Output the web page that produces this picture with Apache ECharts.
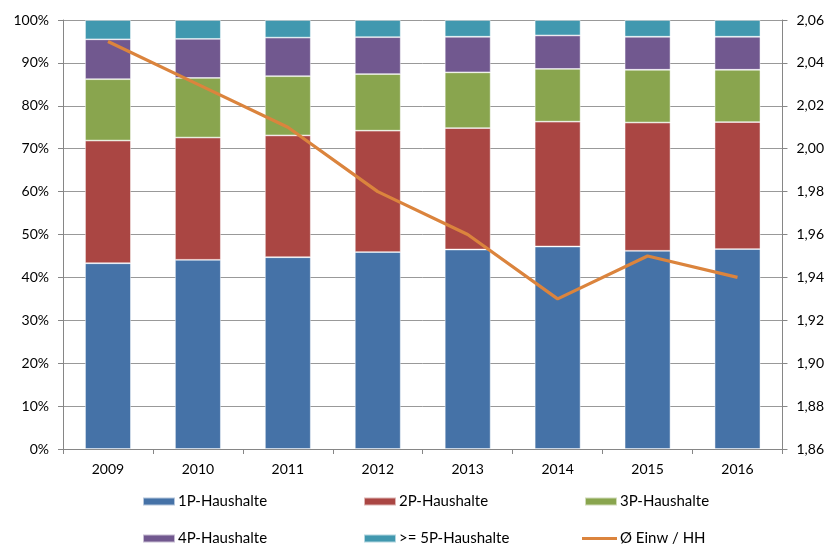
<!DOCTYPE html>
<html>
<head>
<meta charset="utf-8">
<script src="https://cdn.jsdelivr.net/npm/echarts@6/dist/echarts.min.js"></script>
<style>
html, body { margin: 0; padding: 0; background: #fff; }
#main { width: 827px; height: 544px; }
</style>
</head>
<body>
<div id="main"></div>
<script>
// Jahre
var years = ['2009', '2010', '2011', '2012', '2013', '2014', '2015', '2016'];
// Anteile in %
var hh1 = [43.3, 44.1, 44.7, 45.9, 46.5, 47.2, 46.2, 46.6];
var hh2 = [28.6, 28.5, 28.4, 28.3, 28.3, 29.1, 29.9, 29.6];
var hh3 = [14.3, 13.9, 13.8, 13.2, 13.0, 12.3, 12.3, 12.2];
var hh4 = [9.3, 9.1, 9.0, 8.6, 8.3, 7.8, 7.7, 7.7];
var hh5 = [4.5, 4.4, 4.1, 4.0, 3.9, 3.6, 3.9, 3.9];
// durchschnittliche Einwohner je Haushalt
var einwHH = [2.05, 2.03, 2.01, 1.98, 1.96, 1.93, 1.95, 1.94];

var names = ['1P-Haushalte', '2P-Haushalte', '3P-Haushalte', '4P-Haushalte', '>= 5P-Haushalte', 'Ø Einw / HH'];
var colors = ['#4572A7', '#AA4643', '#89A54E', '#71588F', '#4198AF', '#DB843D'];
var barData = [hh1, hh2, hh3, hh4, hh5];

var font = 'Lato';
var chart = echarts.init(document.getElementById('main'));

var series = [];
for (var i = 0; i < barData.length; i++) {
	series.push({
		name : names[i],
		type : 'bar',
		stack : 'hh',
		barWidth : '51%',
		itemStyle : { color : colors[i], borderColor : 'rgba(255,255,255,0.6)', borderWidth : 0.8 },
		data : barData[i]
	});
}
series.push({
	name : names[5],
	type : 'line',
	yAxisIndex : 1,
	symbol : 'none',
	lineStyle : { color : colors[5], width : 3.2 },
	itemStyle : { color : colors[5] },
	data : einwHH
});

// Legende: 3 Spalten, 2 Zeilen
var legendPos = [[142, 494], [363, 494], [584, 494], [142, 531], [363, 531], [582, 531]];
var legends = [];
for (var j = 0; j < names.length; j++) {
	legends.push({
		data : [ { name : names[j], icon : j == 5 ? 'rect' : 'rect' } ],
		left : legendPos[j][0],
		top : legendPos[j][1],
		itemWidth : j == 5 ? 35 : 32,
		itemHeight : j == 5 ? 3 : 8,
		itemGap : 0,
		padding : 0,
		selectedMode : false,
		textStyle : { fontFamily : font, fontSize : 15, color : '#000', padding : [0, 0, 0, -2] }
	});
}

var option = {
	animation : false,
	color : colors,
	legend : legends,
	grid : { left : 63, right : 44, top : 20, bottom : 95 },
	xAxis : {
		type : 'category',
		data : years,
		axisLine : { lineStyle : { color : '#868686', width : 1 } },
		axisTick : { show : true, length : 5, lineStyle : { color : '#868686' } },
		axisLabel : { fontFamily : font, fontSize : 14, color : '#000', margin : 13 }
	},
	yAxis : [ {
		type : 'value',
		min : 0,
		max : 100,
		interval : 10,
		axisLine : { show : true, lineStyle : { color : '#868686' } },
		axisTick : { show : true, length : 5, lineStyle : { color : '#868686' } },
		splitLine : { lineStyle : { color : '#999', width : 1 } },
		axisLabel : { fontFamily : font, fontSize : 14, color : '#000', margin : 14, formatter : '{value}%' }
	}, {
		type : 'value',
		min : 1.86,
		max : 2.06,
		interval : 0.02,
		position : 'right',
		axisLine : { show : true, lineStyle : { color : '#868686' } },
		axisTick : { show : true, length : 5, lineStyle : { color : '#868686' } },
		splitLine : { show : false },
		axisLabel : {
			fontFamily : font, fontSize : 14, color : '#000', margin : 14,
			formatter : function(v) { return v.toFixed(2).replace('.', ','); }
		}
	} ],
	series : series
};
chart.setOption(option);
</script>
</body>
</html>
